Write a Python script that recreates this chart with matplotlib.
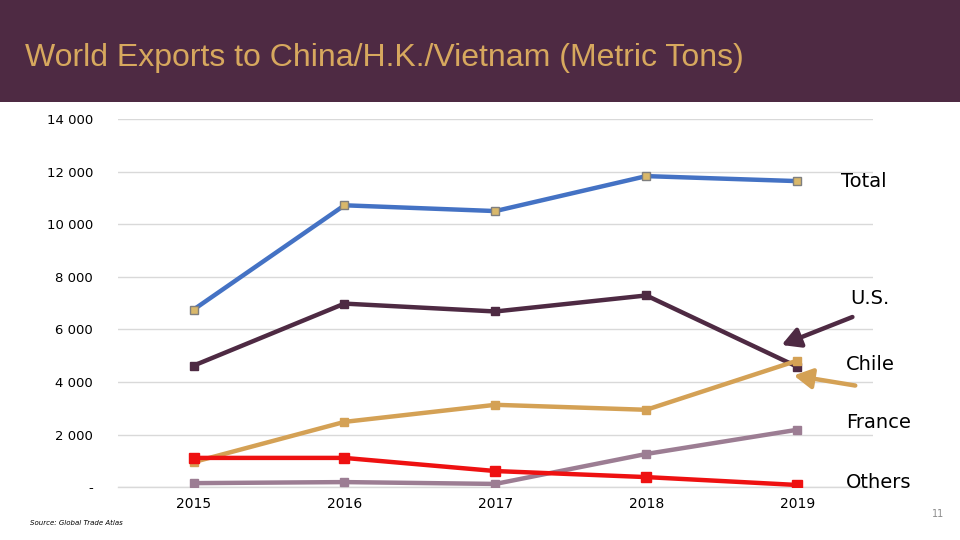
import numpy as np
import matplotlib.pyplot as plt
from matplotlib.patches import Rectangle, FancyArrowPatch
from matplotlib.ticker import FuncFormatter

# Data (metric tons)
years = ['2015', '2016', '2017', '2018', '2019']
total = [6750, 10720, 10500, 11830, 11640]
us = [4620, 6980, 6680, 7290, 4580]
chile = [950, 2480, 3130, 2940, 4810]
france = [150, 190, 120, 1260, 2180]
others = [1110, 1110, 610, 380, 80]

fig = plt.figure(figsize=(9.6, 5.4), dpi=100)

# title bar
fig.patches.append(Rectangle((0, 0.811), 1, 0.189, transform=fig.transFigure,
                             facecolor='#4E2A43', edgecolor='none', zorder=0))
fig.text(0.026, 0.893, 'World Exports to China/H.K./Vietnam (Metric Tons)',
         color='#D7A85E', fontsize=23, family='Liberation Sans', va='center')

ax = fig.add_axes([0.123, 0.098, 0.786, 0.6815])
x = np.arange(len(years))

ax.plot(x, total, color='#4472C4', lw=3.2, marker='s', ms=6,
        mfc='#D9B86A', mec='#7F7F7F', mew=1, zorder=3)
ax.plot(x, us, color='#4E2A43', lw=3.2, marker='s', ms=6, zorder=3)
ax.plot(x, chile, color='#D4A155', lw=3.2, marker='s', ms=6, zorder=3)
ax.plot(x, france, color='#9C7D93', lw=3.2, marker='s', ms=6, zorder=3)
ax.plot(x, others, color='#EE1111', lw=3.2, marker='s', ms=7, zorder=4)

ax.set_xlim(-0.5, 4.5)
ax.set_ylim(0, 14000)
ax.set_yticks(np.arange(0, 14001, 2000))
ax.yaxis.set_major_formatter(FuncFormatter(
    lambda v, p: '-' if v == 0 else f'{int(v):,}'.replace(',', ' ')))
ax.set_xticks(x)
ax.set_xticklabels(years)
ax.tick_params(axis='both', length=0, labelsize=9.5, pad=18)
ax.tick_params(axis='x', pad=7, labelsize=10)
ax.grid(axis='y', color='#D9D9D9', lw=1)
ax.axhline(0, color='#D9D9D9', lw=1, clip_on=False, zorder=1)
ax.set_axisbelow(True)
for s in ax.spines.values():
    s.set_visible(False)

# series labels
lab = dict(fontsize=14, color='black', transform=fig.transFigure, va='center')
fig.text(841 / 960, 1 - 181 / 540, 'Total', **lab)
fig.text(850 / 960, 1 - 298 / 540, 'U.S.', **lab)
fig.text(846 / 960, 1 - 364 / 540, 'Chile', **lab)
fig.text(846 / 960, 1 - 423 / 540, 'France', **lab)
fig.text(846 / 960, 1 - 482 / 540, 'Others', **lab)

# arrows
arrow = dict(transform=fig.transFigure,
             arrowstyle='-|>,head_length=1.0,head_width=0.55',
             lw=3.2, mutation_scale=11, zorder=5)
fig.patches.append(FancyArrowPatch(
    (855 / 960, 1 - 316 / 540), (779 / 960, 1 - 346 / 540),
    color='#4E2A43', **arrow))
fig.patches.append(FancyArrowPatch(
    (858 / 960, 1 - 386 / 540), (791 / 960, 1 - 375 / 540),
    color='#D4A155', **arrow))

fig.text(30 / 960, 1 - 523 / 540, 'Source: Global Trade Atlas', fontsize=5,
         style='italic', va='center')
fig.text(938 / 960, 1 - 514 / 540, '11', fontsize=7, color='#8C8C8C',
         ha='center', va='center')

fig.savefig('out.png', dpi=100)
